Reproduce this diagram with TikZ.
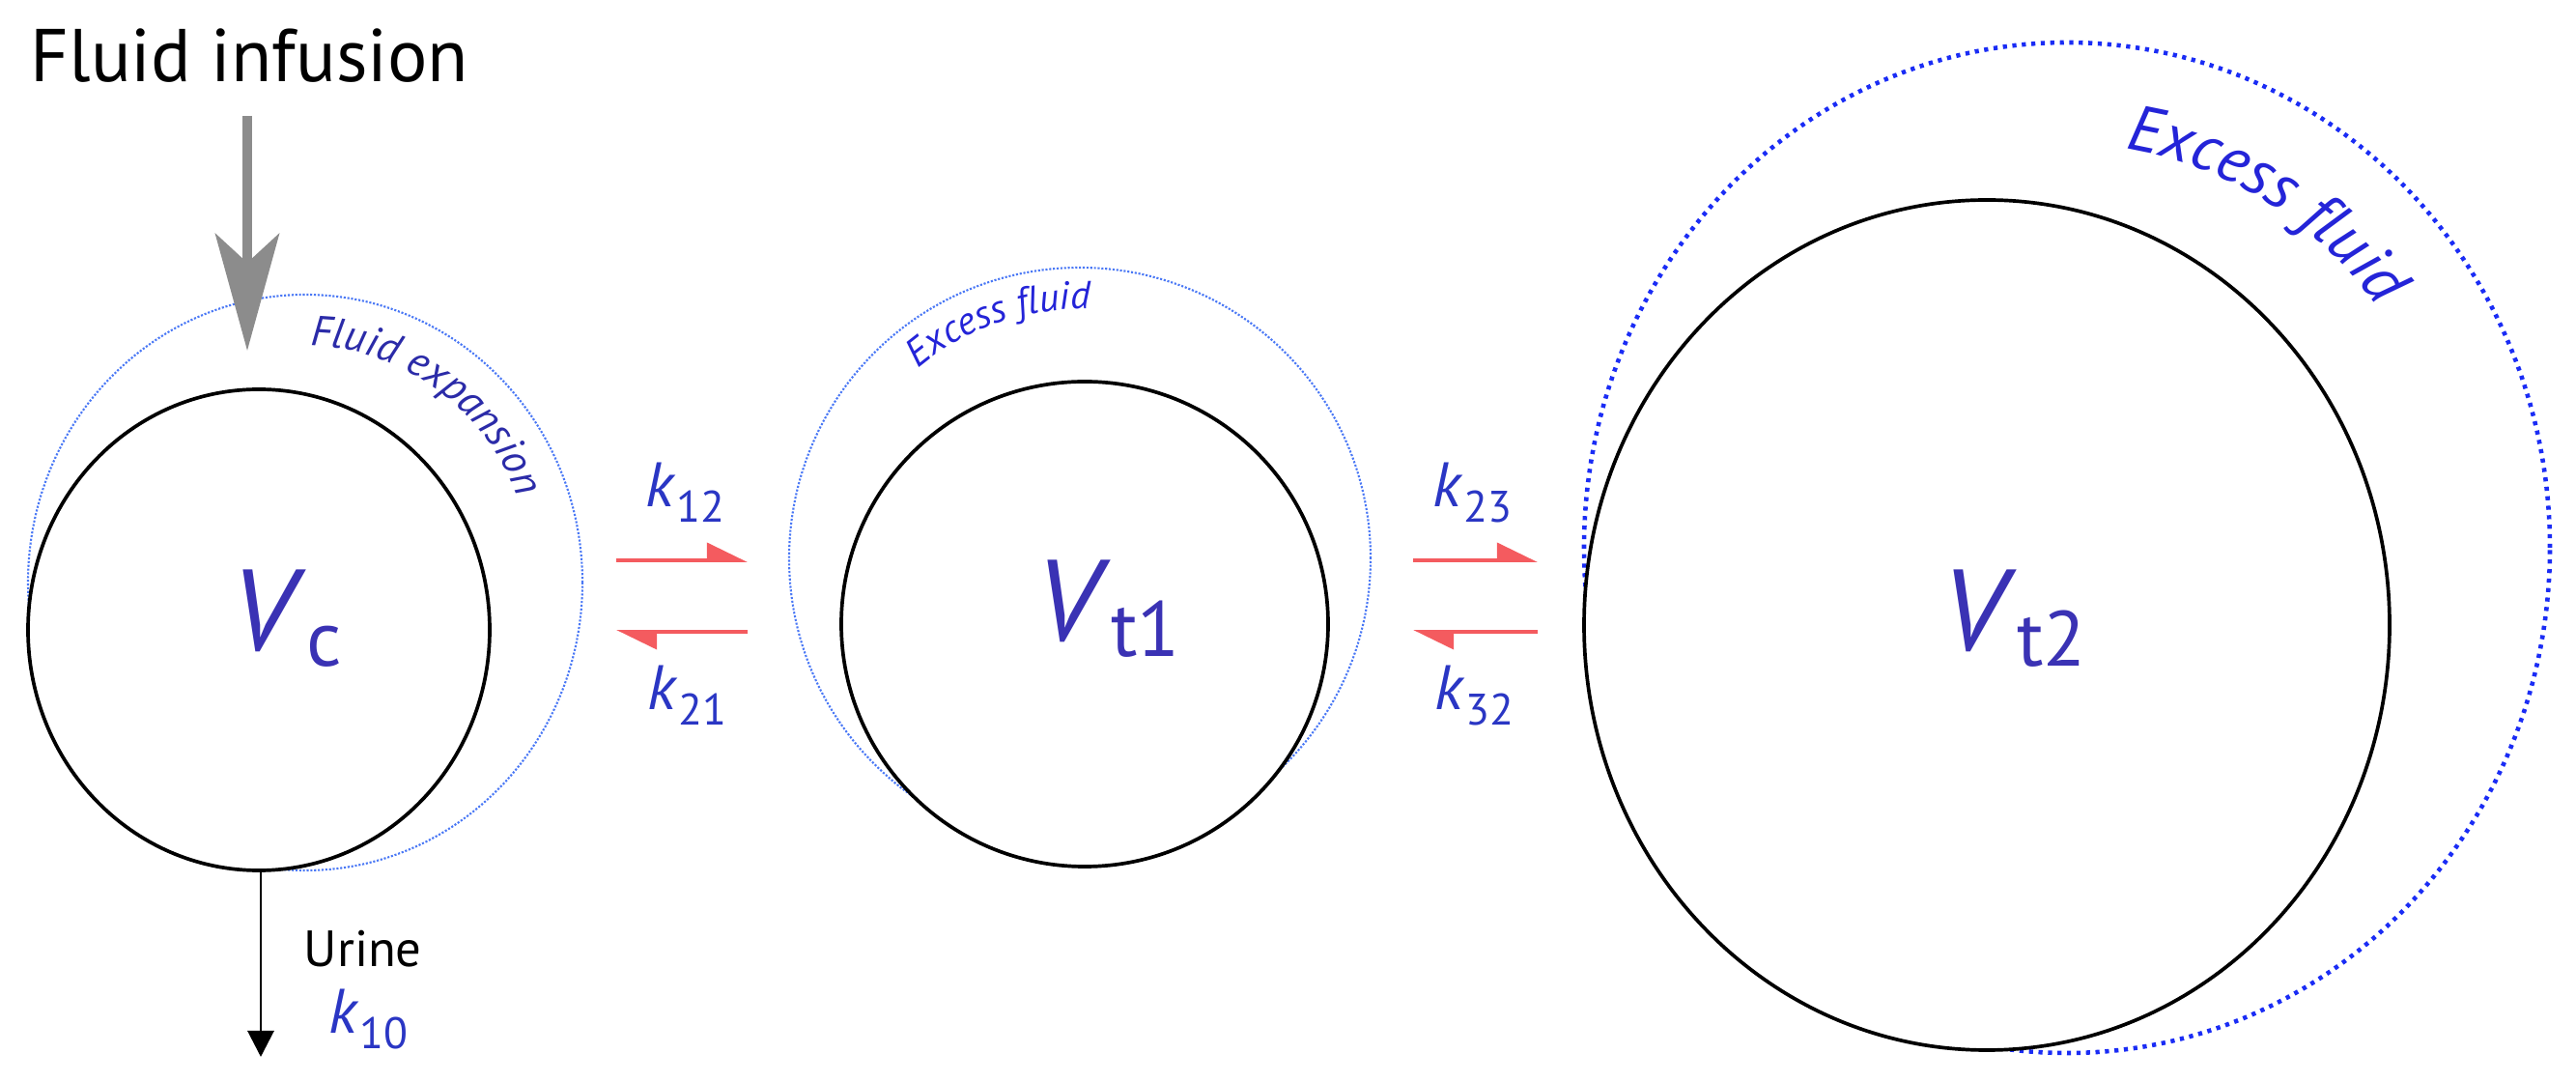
\documentclass[tikz,border=0pt]{standalone}
\usepackage{fontspec}
\setmainfont{PT Sans}
\usepackage{tikz}
\usetikzlibrary{arrows.meta,shapes.geometric,decorations.text}
\definecolor{ringBlue}{HTML}{4A78F5}
\definecolor{ringDeep}{HTML}{1A2CF5}
\definecolor{labelBlue}{HTML}{3A32B4}
\definecolor{rateBlue}{HTML}{2A36C4}
\definecolor{noteBlue}{HTML}{2B2BA8}
\definecolor{excessBlue}{HTML}{2424D8}
\definecolor{flowRed}{HTML}{F45B5F}
\definecolor{infGray}{HTML}{8C8C8C}
\tikzset{
  compartment/.style={ellipse, draw=black, line width=1.05pt, fill=white, inner sep=0pt, outer sep=0pt},
  thinRing/.style={ellipse, draw=ringBlue, line width=0.6pt, dash pattern=on 0.6pt off 0.5pt, inner sep=0pt, outer sep=0pt},
  thickRing/.style={ellipse, draw=ringDeep, line width=1.3pt, dash pattern=on 1.2pt off 1.6pt, inner sep=0pt, outer sep=0pt},
  volLabel/.style={text=labelBlue, anchor=base west, inner sep=0pt, font=\fontsize{34}{38}\selectfont},
  rateLabel/.style={text=rateBlue, anchor=base west, inner sep=0pt, font=\fontsize{18.5}{22}\selectfont},
  plainLabel/.style={text=black, anchor=base west, inner sep=0pt},
  flowArrow/.style={draw=flowRed, line width=1.1pt, -{Triangle[harpoon, length=0.38cm, width=0.36cm]}}
}
\newcommand{\vol}[1]{\textit{V}\raisebox{-4.3pt}{\fontsize{23}{26}\selectfont #1}}
\newcommand{\rate}[1]{\textit{k}\raisebox{-4.5pt}{\fontsize{13}{15}\selectfont #1}}

\begin{document}
\begin{tikzpicture}
  \useasboundingbox (0,0) rectangle (26.67,11.2);

  % expanded volumes
  \node[thinRing, minimum width=5.74cm, minimum height=5.96cm] (VcRing) at (3.16,5.17) {};
  \node[thinRing, minimum width=6.02cm, minimum height=6.02cm] (Vt1Ring) at (11.18,5.42) {};
  \node[thickRing, minimum width=10.0cm, minimum height=10.46cm] (Vt2Ring) at (21.40,5.53) {};

  % compartments
  \node[compartment, minimum width=4.78cm, minimum height=4.98cm] (Vc) at (2.68,4.68) {};
  \node[compartment, minimum width=5.04cm, minimum height=5.02cm] (Vt1) at (11.23,4.74) {};
  \node[compartment, minimum width=8.34cm, minimum height=8.80cm] (Vt2) at (20.57,4.73) {};

  \node[volLabel] (VcLabel) at (2.39,4.46) {\vol{c}};
  \node[volLabel] (Vt1Label) at (10.72,4.56) {\vol{t1}};
  \node[volLabel] (Vt2Label) at (20.10,4.46) {\vol{t2}};

  % curved notes
  \path[decorate, decoration={text along path, text align=center, text color=noteBlue,
      text={|\fontsize{12.5}{14}\selectfont\itshape|Fluid expansion}}]
    (VcRing.center) ++(97:2.36 and 2.45) arc[start angle=97, end angle=13, x radius=2.36, y radius=2.45];
  \path[decorate, decoration={text along path, text align=center, text color=excessBlue,
      text={|\fontsize{11.5}{13}\selectfont\itshape|Excess fluid}}]
    (Vt1Ring.center) ++(142:2.58) arc[start angle=142, end angle=76, radius=2.58];
  \path[decorate, decoration={text along path, text align=center, text color=excessBlue,
      text={|\fontsize{19}{22}\selectfont\itshape|Excess fluid}}]
    (Vt2Ring.center) ++(90:4.0 and 4.18) arc[start angle=90, end angle=28, x radius=4.0, y radius=4.18];

  % infusion
  \node[plainLabel, font=\fontsize{22}{26}\selectfont] (infusionLabel) at (0.31,10.35) {Fluid infusion};
  \coordinate (infStart) at (2.56,10.00);
  \coordinate (infEnd) at (2.56,7.57);
  \draw[infGray, line width=3.1pt, -{Stealth[length=1.21cm, width=0.66cm, inset=0.3cm]}] (infStart) -- (infEnd);

  % urine
  \coordinate (urineEnd) at (2.70,0.26);
  \draw[black, line width=0.85pt, -{Triangle[length=0.27cm, width=0.27cm]}] (Vc.south -| urineEnd) -- (urineEnd);
  \node[plainLabel, font=\fontsize{15}{18}\selectfont] (urineLabel) at (3.14,1.19) {Urine};
  \node[rateLabel] (k10Label) at (3.40,0.50) {\rate{10}};

  % exchange
  \coordinate (a12s) at (6.38,5.40);
  \coordinate (a12e) at (7.74,5.40);
  \coordinate (a21s) at (7.74,4.66);
  \coordinate (a21e) at (6.38,4.66);
  \coordinate (a23s) at (14.63,5.40);
  \coordinate (a23e) at (15.92,5.40);
  \coordinate (a32s) at (15.92,4.66);
  \coordinate (a32e) at (14.63,4.66);
  \draw[flowArrow] (a12s) -- (a12e);
  \draw[flowArrow] (a21s) -- (a21e);
  \draw[flowArrow] (a23s) -- (a23e);
  \draw[flowArrow] (a32s) -- (a32e);

  \node[rateLabel] (k12Label) at (6.68,5.95) {\rate{12}};
  \node[rateLabel] (k21Label) at (6.70,3.85) {\rate{21}};
  \node[rateLabel] (k23Label) at (14.83,5.95) {\rate{23}};
  \node[rateLabel] (k32Label) at (14.85,3.85) {\rate{32}};
\end{tikzpicture}
\end{document}
